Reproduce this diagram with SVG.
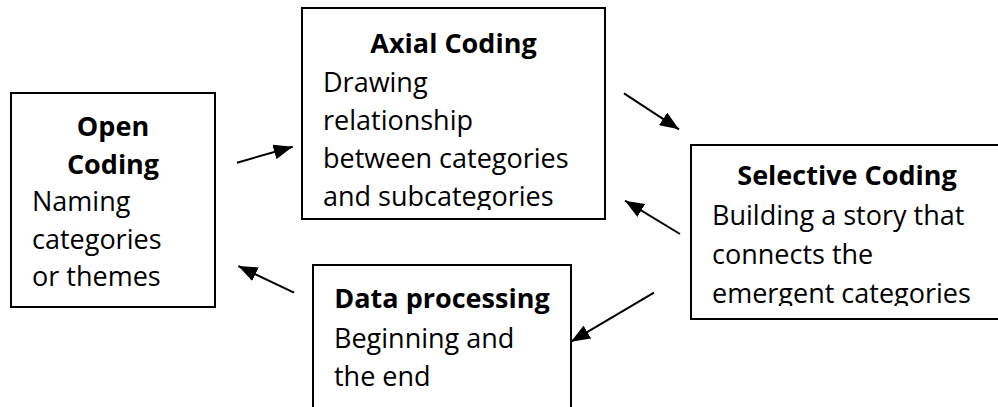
<svg xmlns="http://www.w3.org/2000/svg" width="998" height="407" viewBox="0 0 998 407">
  <style>
    .box { fill: #ffffff; stroke: #000000; stroke-width: 2; }
    .title { font-family: "Open Sans", "Liberation Sans", sans-serif; font-weight: bold; font-size: 27px; fill: #000000; text-anchor: middle; }
    .body { font-family: "Open Sans", "Liberation Sans", sans-serif; font-size: 27px; fill: #000000; }
    .arrow { fill: none; stroke: #000000; stroke-width: 2; marker-end: url(#head); }
  </style>
  <defs>
    <!-- filled triangular arrowhead shared by every connector -->
    <marker id="head" markerUnits="userSpaceOnUse" markerWidth="20" markerHeight="15" refX="19" refY="7.5" orient="auto">
      <path d="M0,0 L19,7.5 L0,15 Z" fill="#000000"/>
    </marker>
    <!-- text frames cut off the last line's descenders -->
    <clipPath id="clipAxial"><rect x="302" y="8" width="303" height="202"/></clipPath>
    <clipPath id="clipSelective"><rect x="691" y="145" width="320" height="161"/></clipPath>
  </defs>
  <rect width="998" height="407" fill="#ffffff"/>

  <g id="open-coding">
    <rect class="box" x="11" y="93" width="204" height="214"/>
    <text class="title" x="113" y="136">Open</text>
    <text class="title" x="113" y="173.5">Coding</text>
    <text class="body" x="32" y="211">Naming</text>
    <text class="body" x="32" y="248.5">categories</text>
    <text class="body" x="32" y="286">or themes</text>
  </g>

  <g id="axial-coding">
    <rect class="box" x="302" y="8" width="303" height="211"/>
    <g clip-path="url(#clipAxial)">
      <text class="title" x="453.5" y="53">Axial Coding</text>
      <text class="body" x="323" y="92">Drawing</text>
      <text class="body" x="323" y="130">relationship</text>
      <text class="body" x="323" y="168">between categories</text>
      <text class="body" x="323" y="206">and subcategories</text>
    </g>
  </g>

  <g id="selective-coding">
    <rect class="box" x="691" y="145" width="320" height="174"/>
    <g clip-path="url(#clipSelective)">
      <text class="title" x="847" y="185">Selective Coding</text>
      <text class="body" x="712" y="225">Building a story that</text>
      <text class="body" x="712" y="264">connects the</text>
      <text class="body" x="712" y="303">emergent categories</text>
    </g>
  </g>

  <g id="data-processing">
    <rect class="box" x="313" y="265" width="258" height="160"/>
    <text class="title" x="442" y="308">Data processing</text>
    <text class="body" x="334" y="348">Beginning and</text>
    <text class="body" x="334" y="386">the end</text>
  </g>

  <g id="connectors">
    <path class="arrow" d="M237,162.7 L292.7,146.7"/>
    <path class="arrow" d="M624,93.3 L679,129.3"/>
    <path class="arrow" d="M680,234 L625,200.7"/>
    <path class="arrow" d="M654,292.7 L571,341.7"/>
    <path class="arrow" d="M294,292.7 L238.3,266"/>
  </g>
</svg>
